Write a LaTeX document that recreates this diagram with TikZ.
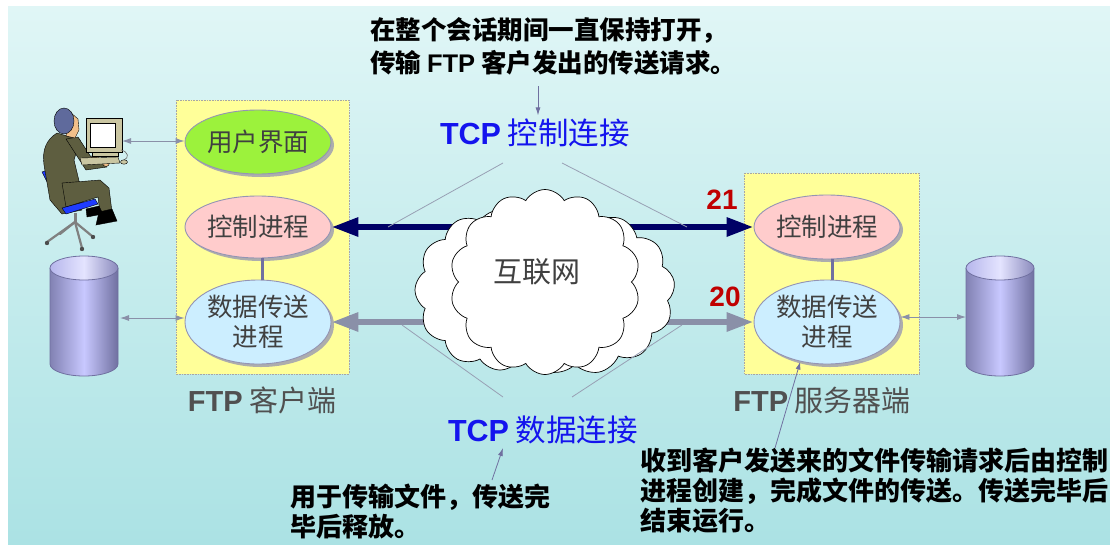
\documentclass[tikz,border=0pt]{standalone}
\usepackage{fontspec}
\setmainfont{Noto Sans CJK SC}
\newfontfamily\lat{Liberation Sans}
\usetikzlibrary{arrows.meta,shapes.geometric,shapes.symbols,shadows,calc}

\definecolor{bgtop}{HTML}{E0F6F6}
\definecolor{bgbot}{HTML}{ABE2E4}
\definecolor{boxyellow}{HTML}{FFFF99}
\definecolor{uigreen}{HTML}{9CF23C}
\definecolor{ctrlpink}{HTML}{FFCCCC}
\definecolor{datablue}{HTML}{CCEEFF}
\definecolor{edgegray}{HTML}{9494B4}
\definecolor{navy}{HTML}{000066}
\definecolor{datagray}{HTML}{8A90A8}
\definecolor{linkgray}{HTML}{7070A0}
\definecolor{thingray}{HTML}{98A0B4}
\definecolor{tcpblue}{HTML}{1414EE}
\definecolor{portred}{HTML}{C00000}
\definecolor{labelgray}{HTML}{505050}
\definecolor{textgray}{HTML}{404040}
\definecolor{hair}{HTML}{5F6A9C}
\definecolor{skin}{HTML}{F2C08A}
\definecolor{jacket}{HTML}{5E5E40}
\definecolor{chairblue}{HTML}{1F3CFF}
\definecolor{beige}{HTML}{CAC6A2}
\definecolor{cylside}{HTML}{7070A0}
\definecolor{cylmid}{HTML}{C8C8FF}
\definecolor{cyltop}{HTML}{E4E4FF}

\tikzset{
  hostbox/.style={fill=boxyellow, draw=black!35, densely dotted, line width=0.6pt},
  proc/.style={ellipse, draw=edgegray, line width=0.9pt, inner sep=0pt,
    minimum width=146pt, text=textgray, align=center,
    font=\fontsize{25.5}{30}\selectfont,
    drop shadow={shadow xshift=3pt, shadow yshift=-3pt, fill=black!32, opacity=1}},
  ctrlconn/.style={navy, line width=6pt,
    {Triangle[length=27pt,width=18pt]}-{Triangle[length=27pt,width=18pt]}},
  dataconn/.style={datagray, line width=6pt,
    {Triangle[length=27pt,width=18pt]}-{Triangle[length=27pt,width=18pt]}},
  localio/.style={datagray, line width=0.9pt,
    {Latex[length=9pt,width=6pt]}-{Latex[length=9pt,width=6pt]}},
  vline/.style={thingray, line width=0.8pt},
  note/.style={linkgray, line width=0.8pt, -{Latex[length=8pt,width=5pt]}},
  notetext/.style={inner sep=0pt, anchor=north west, align=left,
    font=\fontsize{26}{30}\selectfont\bfseries},
  hostlabel/.style={text=labelgray, font=\fontsize{29}{32}\selectfont},
  tcplabel/.style={text=tcpblue, font=\fontsize{30.5}{34}\selectfont},
  port/.style={text=portred, font=\fontsize{28}{30}\selectfont\lat\bfseries},
  outl/.style={draw=black, line width=0.4pt},
}

\newcommand{\drum}[2]{%
  \shade[left color=cylside!80!cylmid, right color=cylside, middle color=cylmid]
    (#1-34,#2) -- (#1-34,#2+96) arc[start angle=180, end angle=360, x radius=34pt, y radius=12pt]
    -- (#1+34,#2) -- cycle;
  \draw[cylside, line width=0.8pt]
    (#1-34,#2) -- (#1-34,#2+96) arc[start angle=180, end angle=360, x radius=34pt, y radius=12pt]
    -- (#1+34,#2);
  \shade[left color=cylmid!80!cylside, right color=cylside!70!cylmid, middle color=cyltop]
    (#1,#2) ellipse[x radius=34pt, y radius=12pt];
  \draw[cylside, line width=0.8pt] (#1,#2) ellipse[x radius=34pt, y radius=12pt];
}

\begin{document}
\begin{tikzpicture}[x=1pt, y=-1pt]
\useasboundingbox (0,0) rectangle (1110,544);
\fill[white] (0,0) rectangle (1110,544);
\shade[top color=bgtop, bottom color=bgbot] (8,6) rectangle (1110,544);

% host boxes
\draw[hostbox] (176,100) rectangle (349,374);
\draw[hostbox] (744,173) rectangle (919,374);

% processes on the client
\node[proc, fill=uigreen, minimum height=64pt] (ui) at (258,142) {用户界面};
\node[proc, fill=ctrlpink, minimum height=62pt] (cc) at (258,227) {控制进程};
\node[proc, fill=datablue, minimum height=84pt] (cd) at (258,322) {数据传送\\进程};
% processes on the server
\node[proc, fill=ctrlpink, minimum height=64pt] (sc) at (827,227) {控制进程};
\node[proc, fill=datablue, minimum height=84pt] (sd) at (827,322) {数据传送\\进程};

\draw[linkgray, line width=3pt] (cc.south -| 262,0) -- (cd.north -| 262,0);
\draw[linkgray, line width=3pt] (sc.south -| 832,0) -- (sd.north -| 832,0);

% the two TCP connections, passing behind the cloud
\draw[ctrlconn] (cc.east) -- (sc.west);
\draw[dataconn] (cd.east) -- (sd.west);

% internet cloud
\node[cloud, cloud puffs=13, cloud puff arc=115, aspect=1.2, draw, fill=white,
      line width=0.7pt, minimum width=200pt, minimum height=165pt] (back) at (575,292) {};
\node[cloud, cloud puffs=12, cloud puff arc=115, aspect=1.1, draw, fill=white,
      line width=0.7pt, minimum width=170pt, minimum height=160pt] (side) at (500,290) {};
\node[cloud, cloud puffs=14, cloud puff arc=120, aspect=1.05, draw, fill=white,
      line width=0.7pt, minimum width=190pt, minimum height=185pt] (net) at (545,282) {};
\node[text=textgray, font=\fontsize{29}{32}\selectfont] (netlabel) at (537,272) {互联网};

% connection labels and their guide lines
\node[tcplabel] (tcpc) at (535,133) {{\lat\bfseries TCP} 控制连接};
\node[tcplabel] (tcpd) at (543,430) {{\lat\bfseries TCP} 数据连接};
\coordinate (vc1) at (503,163);
\coordinate (vc2) at (562,163);
\coordinate (vd1) at (503,397);
\coordinate (vd2) at (572,397);
\draw[vline] (vc1) -- (388,227);
\draw[vline] (vc2) -- (687,227);
\draw[vline] (vd1) -- (402,325);
\draw[vline] (vd2) -- (682,325);

\node[port] (p21) at (722,200) {21};
\node[port] (p20) at (725,297) {20};

% host labels
\node[hostlabel] (clabel) at (262,400) {{\lat\bfseries FTP} 客户端};
\node[hostlabel] (slabel) at (822,400) {{\lat\bfseries FTP} 服务器端};

% storage
\drum{84}{268}
\drum{1000}{268}
\coordinate (cdisk) at (120,318);
\coordinate (sdisk) at (966,317);
\draw[localio] (cdisk) -- (cd.west |- cdisk);
\draw[localio] (sd.east |- sdisk) -- (sdisk);

% user at a workstation
\filldraw[chairblue, outl] (42,172) -- (50,169) -- (68,205) -- (63,213) -- cycle;
\filldraw[jacket, outl] (57,133) .. controls (46,140) and (42,150) .. (44,165)
  -- (50,200) -- (62,214) -- (82,210) -- (80,185) -- (74,160) -- (80,140) -- cycle;
\filldraw[jacket, outl] (62,183) -- (100,180) -- (109,188) -- (112,212) -- (100,213)
  -- (98,197) -- (66,207) -- cycle;
\filldraw[chairblue, outl] (62,208) -- (95,199) -- (98,204) -- (66,214) -- cycle;
\draw[gray, line width=3pt] (75,213) -- (75,222);
\draw[gray, line width=2.2pt, line cap=round] (75,222) -- (47,242);
\draw[gray, line width=2.2pt, line cap=round] (75,222) -- (82,248);
\draw[gray, line width=2.2pt, line cap=round] (75,222) -- (92,236);
\draw[gray, line width=2.2pt, line cap=round] (75,222) -- (60,234);
\fill[black!70] (47,243) circle (2.2pt) (82,249) circle (2.2pt) (93,237) circle (2.2pt);
\filldraw[black, outl] (86,209) -- (99,206) -- (103,214) -- (87,217) -- cycle;
\filldraw[black, outl] (99,212) -- (112,209) -- (117,221) -- (96,225) -- cycle;
\filldraw[jacket, outl] (66,139) -- (78,137) -- (91,157) -- (105,159) -- (107,167)
  -- (86,170) -- cycle;
\filldraw[skin, outl] (95,157) circle (3.5pt) (106,163) circle (3.5pt);
\filldraw[skin, outl] (70,112) -- (78,119) -- (79,130) -- (75,138) -- (66,136) -- cycle;
\filldraw[hair, outl] (64,121) ellipse[x radius=10pt, y radius=13pt];
\filldraw[beige, outl] (86,118) rectangle (122,152);
\filldraw[white, outl] (90,123) rectangle (115,147);
\filldraw[beige, outl] (92,152) rectangle (118,156);
\filldraw[beige, outl] (80,158) -- (118,157) -- (120,163) -- (82,165) -- cycle;
\draw[black!60, line width=0.6pt] (121,150) .. controls (129,152) and (129,158) .. (124,160);
\filldraw[beige, outl] (124,162) ellipse[x radius=3.5pt, y radius=2.2pt];
\coordinate (screen) at (122,141);
\draw[localio] (screen) -- (ui.west |- screen);

% notes
\node[notetext, font=\fontsize{25.5}{33}\selectfont\bfseries] (ann1) at (370,17)
  {在整个会话期间一直保持打开，\\传输 {\lat\bfseries FTP} 客户发出的传送请求。};
\node[notetext] (ann2) at (290,484) {用于传输文件，传送完\\毕后释放。};
\node[notetext] (ann3) at (640,448) {收到客户发送来的文件传输请求后由控制\\进程创建，完成文件的传送。传送完毕后\\结束运行。};
\coordinate (n1) at (538,86);
\coordinate (n2) at (492,480);
\coordinate (n3) at (775,448);
\draw[note] (n1) -- (n1 |- tcpc.north);
\draw[note] (n2) -- (503,448);
\draw[note] (n3) -- (sd.-124);
\end{tikzpicture}
\end{document}
